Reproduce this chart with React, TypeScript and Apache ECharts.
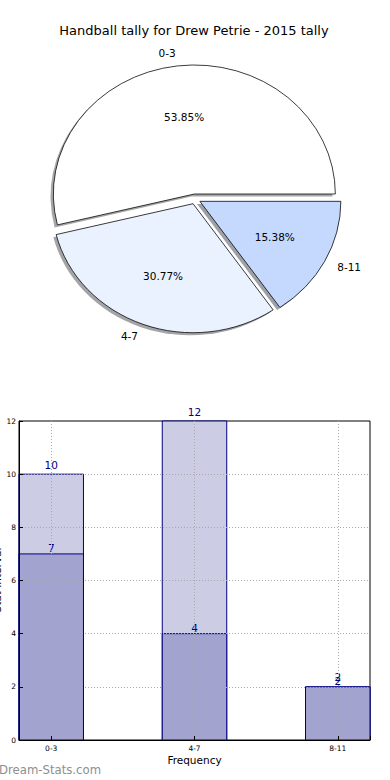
import React, { useEffect, useRef } from 'react';
import * as echarts from 'echarts';

const chartTitle = 'Handball tally for Drew Petrie - 2015 tally';
const categories = ['0-3', '4-7', '8-11'];
const pieValues = [7, 4, 2];
const totalValues = [10, 12, 2];
const innerValues = [7, 4, 2];
const pieColors = ['#ffffff', '#ebf2ff', '#c5d9ff'];
const barWidthUnits = 0.45;
const xAxisName = 'Frequency';
const yAxisName = 'Stat Interval';
const watermark = 'Dream-Stats.com';

const FONT = 'DejaVu Sans';
const NAVY = '#000080';

function shadowOf(hex: string): string {
  const n = parseInt(hex.slice(1), 16);
  const r = Math.round(((n >> 16) & 255) * 0.3);
  const g = Math.round(((n >> 8) & 255) * 0.3);
  const b = Math.round((n & 255) * 0.3);
  return `rgba(${r},${g},${b},0.5)`;
}

export default function App() {
  const ref = useRef<HTMLDivElement>(null);
  useEffect(() => {
    if (!ref.current) return;
    const chart = echarts.init(ref.current, null, { renderer: 'svg' });
    const total = pieValues.reduce((a, b) => a + b, 0);
    const cx = 195, cy = 199, R = 141, sy = 0.915, expl = 5.5;

    const renderPie = (params: any, api: any) => {
      const i = params.dataIndex;
      const v = api.value(1);
      let before = 0;
      for (let k = 0; k < i; k++) before += pieValues[k];
      const a1 = (before / total) * 2 * Math.PI;
      const a2 = ((before + v) / total) * 2 * Math.PI;
      const mid = (a1 + a2) / 2;
      const ox = expl * Math.cos(mid);
      const oy = -expl * Math.sin(mid);
      const pct = ((v / total) * 100).toFixed(2) + '%';
      const lx = cx + ox + 1.1 * R * Math.cos(mid);
      const ly = cy + (oy - 1.1 * R * Math.sin(mid)) * sy;
      const px = cx + ox + 0.6 * R * Math.cos(mid);
      const py = cy + (oy - 0.6 * R * Math.sin(mid)) * sy;
      const shape = { cx: ox, cy: oy, r0: 0, r: R, startAngle: -a2, endAngle: -a1, clockwise: true };
      return {
        type: 'group',
        children: [
          {
            type: 'group',
            x: cx,
            y: cy,
            scaleY: sy,
            children: [
              {
                type: 'sector',
                z2: 0,
                shape: { ...shape, cx: ox - 2.8, cy: oy + 2.8 },
                style: { fill: shadowOf(pieColors[i]) },
              },
              {
                type: 'sector',
                z2: 10,
                shape,
                style: { fill: pieColors[i], stroke: '#000', lineWidth: 0.8 },
              },
            ],
          },
          {
            type: 'text',
            z2: 20,
            x: lx,
            y: ly,
            style: {
              text: categories[i],
              align: Math.cos(mid) > 0 ? 'left' : 'right',
              verticalAlign: 'middle',
              fontSize: 10.5,
              fontFamily: FONT,
              fill: '#000',
            },
          },
          {
            type: 'text',
            z2: 20,
            x: px,
            y: py,
            style: {
              text: pct,
              align: 'center',
              verticalAlign: 'middle',
              fontSize: 10.5,
              fontFamily: FONT,
              fill: '#000',
            },
          },
        ],
      };
    };

    const makeBarRenderer = (fill: string, labelDist: number) => (params: any, api: any) => {
      const x = api.value(0);
      const v = api.value(1);
      const top = api.coord([x, v]);
      const base = api.coord([x, 0]);
      const w = api.size([barWidthUnits, 0])[0];
      return {
        type: 'group',
        children: [
          {
            type: 'rect',
            shape: { x: top[0] - w / 2, y: top[1], width: w, height: base[1] - top[1] },
            style: { fill, stroke: NAVY, lineWidth: 1 },
          },
          {
            type: 'text',
            z2: 30,
            x: top[0],
            y: top[1] - labelDist,
            style: { text: String(v), align: 'center', verticalAlign: 'bottom', fontSize: 10.5, fontFamily: FONT, fill: NAVY },
          },
        ],
      };
    };

    const gridLine = { show: true, lineStyle: { type: [1, 2], color: '#a8a8a8', width: 1 }, showMinLine: false, showMaxLine: false };

    chart.setOption({
      animation: false,
      textStyle: { fontFamily: FONT },
      grid: { left: 19, right: 20, top: 421, bottom: 40, show: true, borderColor: '#000', borderWidth: 1, backgroundColor: 'transparent' },
      xAxis: {
        type: 'value',
        min: -0.225,
        max: 2.225,
        minInterval: 1,
        maxInterval: 1,
        z: 5,
        axisLine: { show: true, onZero: false, lineStyle: { color: '#000', width: 1 } },
        axisTick: { show: true, inside: true, length: 4, lineStyle: { color: '#000' } },
        axisLabel: {
          formatter: (val: number) => (Number.isInteger(val) && categories[Math.abs(val)] !== undefined ? categories[Math.abs(val)] : ''),
          fontSize: 7.5,
          color: '#000',
          margin: 4,
          fontFamily: FONT,
        },
        splitLine: gridLine,
      },
      yAxis: {
        type: 'value',
        min: 0,
        max: 12,
        interval: 2,
        z: 5,
        axisLine: { show: true, onZero: false, lineStyle: { color: '#000', width: 1 } },
        axisTick: { show: true, inside: true, length: 4, lineStyle: { color: '#000' } },
        axisLabel: { fontSize: 7.5, color: '#000', margin: 3, fontFamily: FONT },
        splitLine: gridLine,
      },
      graphic: [
        {
          type: 'text',
          x: 194,
          y: 30,
          style: { text: chartTitle, align: 'center', verticalAlign: 'middle', fontSize: 13, fontFamily: FONT, fill: '#000' },
        },
        {
          type: 'text',
          x: 194.5,
          y: 760,
          style: { text: xAxisName, align: 'center', verticalAlign: 'middle', fontSize: 10.5, fontFamily: FONT, fill: '#000' },
        },
        {
          type: 'text',
          x: -3,
          y: 580,
          rotation: Math.PI / 2,
          style: { text: yAxisName, align: 'center', verticalAlign: 'middle', fontSize: 10.5, fontFamily: FONT, fill: '#000' },
        },
        {
          type: 'text',
          x: -1,
          y: 770,
          style: { text: watermark, align: 'left', verticalAlign: 'middle', fontSize: 11.7, fontFamily: FONT, fill: '#8e8e8e' },
        },
      ],
      series: [
        {
          type: 'custom',
          coordinateSystem: 'none',
          renderItem: renderPie,
          data: pieValues.map((v, i) => [i, v]),
        },
        {
          type: 'custom',
          coordinateSystem: 'cartesian2d',
          renderItem: makeBarRenderer('#ccccE5', 4),
          data: totalValues.map((v, i) => [i, v]),
          encode: { x: 0, y: 1 },
        },
        {
          type: 'custom',
          coordinateSystem: 'cartesian2d',
          renderItem: makeBarRenderer('#a2a3cf', 0),
          data: innerValues.map((v, i) => [i, v]),
          encode: { x: 0, y: 1 },
        },
      ],
    });
    return () => chart.dispose();
  }, []);
  return <div ref={ref} style={{ position: 'absolute', left: 0, top: 0, width: 390, height: 780, background: '#fff' }} />;
}
